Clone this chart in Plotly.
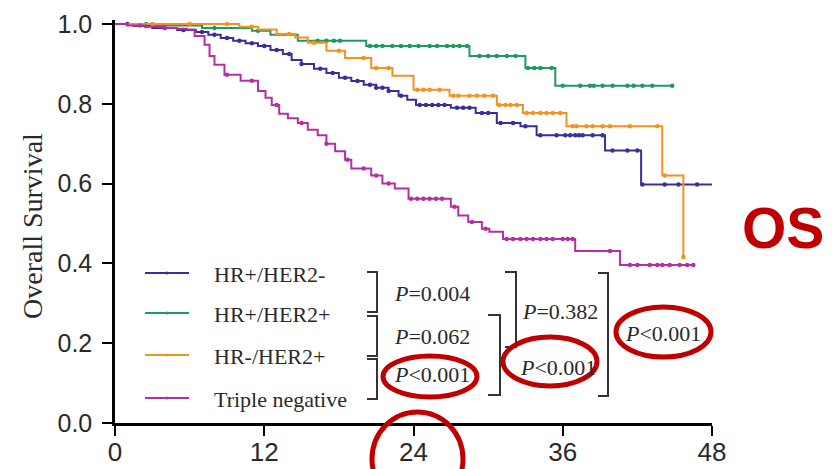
import numpy as np
import plotly.graph_objects as go

# ---------------- data ----------------
group_names = ["HR+/HER2-", "HR+/HER2+", "HR-/HER2+", "Triple negative"]
group_colors = ["#3A2E9C", "#1F9A60", "#F5921E", "#B52FA3"]

# HR+/HER2-
t_hrp_her2n = [0, 1.5, 3, 5, 6.5, 7.5, 8.5, 9.5, 10.5, 11.5, 12.5, 13.5, 14.2, 15, 16, 17, 18, 19, 20,
               21, 22, 22.8, 23.5, 24.2, 27, 29, 30.7, 32.6, 33.9, 39.4, 42.3]
s_hrp_her2n = [1.0, 0.995, 0.99, 0.985, 0.98, 0.973, 0.965, 0.958, 0.952, 0.945, 0.935, 0.925, 0.91, 0.9,
               0.888, 0.877, 0.865, 0.857, 0.848, 0.84, 0.832, 0.82, 0.81, 0.797, 0.79, 0.777, 0.752, 0.744,
               0.721, 0.683, 0.598]
end_hrp_her2n = 48
c_hrp_her2n = [1, 2.5, 4, 5.5, 7, 8, 9, 10, 11, 12, 13, 14, 15, 16.5, 17.5, 18.5, 19.5, 20.5, 21, 21.5, 22,
               23, 24.5, 25, 25.5, 26, 26.5, 27.5, 28, 28.5, 29.5, 30, 31, 32, 33, 34.2, 35.5, 36.2, 36.6,
               37, 37.3, 37.6, 38.4, 39.2, 40, 41.2, 42, 42.4, 44.2, 45.3, 46.8]

# HR+/HER2+
t_hrp_her2p = [0, 3, 7, 11, 12.5, 14.7, 20.2, 28.5, 33, 35.4]
s_hrp_her2p = [1.0, 0.996, 0.99, 0.983, 0.973, 0.958, 0.945, 0.92, 0.89, 0.845]
end_hrp_her2p = 44.8
c_hrp_her2p = [2.5, 8, 11.5, 16.3, 17, 17.6, 18.1, 20.5, 21, 21.5, 22.3, 23, 23.7, 24.4, 25.3, 25.9, 26.7,
               27.2, 27.7, 28.3, 29.3, 30, 30.7, 31.5, 32.2, 33.2, 33.7, 34.2, 35.1, 36, 37.4, 38.2, 38.5,
               39.2, 40, 41.2, 41.7, 42.4, 43.2, 44.8]

# HR-/HER2+
t_hrn_her2p = [0, 10, 11.5, 13, 14.5, 15.5, 17, 18.5, 20.6, 22.3, 24.0, 26.9, 30.7, 32.8, 36.3, 44.0, 45.7]
s_hrn_her2p = [1.0, 0.993, 0.986, 0.975, 0.966, 0.953, 0.933, 0.915, 0.89, 0.87, 0.835, 0.82, 0.797, 0.777,
               0.744, 0.62, 0.416]
end_hrn_her2p = 45.7
c_hrn_her2p = [3, 6, 9, 11, 14, 16, 18, 20, 21, 22, 24.3, 24.8, 25.3, 26.1, 27.2, 27.6, 28.5, 29.1, 29.7,
               30.4, 30.9, 31.4, 31.8, 32.3, 33.1, 33.6, 34.2, 34.7, 35.2, 35.8, 36.8, 37.1, 37.9, 38.4,
               39.2, 39.8, 41.4, 43.6, 44.2, 45.7]

# Triple negative
t_tn = [0, 1, 2.5, 4, 5, 5.8, 6.4, 7.2, 7.6, 8.0, 8.8, 10.1, 11.5, 12.1, 12.6, 13.2, 13.9, 14.7, 15.5, 16.3,
        17, 17.7, 18.5, 19, 20.6, 21.5, 22.5, 23.6, 27.0, 27.6, 28.4, 29.5, 30.1, 31.2, 37.0, 40.6]
s_tn = [1.0, 0.996, 0.993, 0.99, 0.988, 0.986, 0.97, 0.948, 0.92, 0.898, 0.873, 0.858, 0.832, 0.815, 0.797,
        0.775, 0.764, 0.752, 0.735, 0.721, 0.70, 0.681, 0.66, 0.638, 0.62, 0.60, 0.588, 0.562, 0.542, 0.52,
        0.504, 0.487, 0.479, 0.461, 0.431, 0.396]
end_tn = 46.5
c_tn = [2, 4, 9, 11, 13, 15, 17, 18.7, 20, 21, 22, 23.8, 24.3, 24.8, 25.3, 25.8, 26.3, 27.3, 28.7, 29.8,
        31.5, 32, 32.6, 33.1, 33.6, 34.2, 34.7, 35.2, 36, 36.4, 36.8, 39.8, 41.4, 42, 43, 43.6, 44, 44.6,
        45.4, 46, 46.5]

x_ticks = [0, 12, 24, 36, 48]
y_ticks = [0.0, 0.2, 0.4, 0.6, 0.8, 1.0]
y_title = "Overall Survival"
p_texts = ["<i>P</i>=0.004", "<i>P</i>=0.062", "<i>P</i><0.001", "<i>P</i>=0.382", "<i>P</i><0.001",
           "<i>P</i><0.001"]
badge = "OS"

groups = [
    (t_hrp_her2n, s_hrp_her2n, end_hrp_her2n, c_hrp_her2n),
    (t_hrp_her2p, s_hrp_her2p, end_hrp_her2p, c_hrp_her2p),
    (t_hrn_her2p, s_hrn_her2p, end_hrn_her2p, c_hrn_her2p),
    (t_tn, s_tn, end_tn, c_tn),
]

# ---------------- figure ----------------
PAGE_W, PAGE_H = 837, 469
OFF = 8                                  # page body margin
W, H = PAGE_W - OFF, PAGE_H - OFF
PL, PR, PTOP, PB = 115, 712, 20, 423     # plot area in page pixels
YMAX = 1.01


def px(x):
    return (x - PL) / (PR - PL)


def py(y):
    return (PB - y) / (PB - PTOP)


fig = go.Figure()
for name, color, (t, s, end, c) in zip(group_names, group_colors, groups):
    xs = list(t) + [end]
    ys = list(s) + [s[-1]]
    fig.add_trace(go.Scatter(x=xs, y=ys, mode="lines", line=dict(color=color, width=2, shape="hv"),
                             name=name, showlegend=False, hoverinfo="skip"))
    ct = np.array(c, dtype=float)
    idx = np.searchsorted(np.array(t, dtype=float), ct, side="right") - 1
    cy = np.array(s)[idx]
    fig.add_trace(go.Scatter(x=ct, y=cy, mode="markers", marker=dict(color=color, size=4.5),
                             showlegend=False, cliponaxis=False, hoverinfo="skip"))

shapes = []
annotations = []
serif = "Liberation Serif, Times New Roman, serif"
sans = "Liberation Sans, Arial, sans-serif"
txt_col = "#2a2a2a"

# legend
leg_rows = [273, 313, 355, 398]
for name, color, yy in zip(group_names, group_colors, leg_rows):
    shapes.append(dict(type="line", xref="paper", yref="paper", x0=px(145), x1=px(189), y0=py(yy), y1=py(yy),
                       line=dict(color=color, width=2)))
    shapes.append(dict(type="circle", xref="paper", yref="paper", x0=px(165.5), x1=px(168.5), y0=py(yy + 1.5),
                       y1=py(yy - 1.5), fillcolor=color, line=dict(color=color, width=0)))
    annotations.append(dict(xref="paper", yref="paper", x=px(212), y=py(yy + 1), text=name, showarrow=False,
                            xanchor="left", yanchor="middle", font=dict(family=serif, size=22, color=txt_col)))


def bracket(xv, xl, y0, y1):
    return dict(type="path", xref="paper", yref="paper",
                path=f"M {px(xl)} {py(y0)} L {px(xv)} {py(y0)} L {px(xv)} {py(y1)} L {px(xl)} {py(y1)}",
                line=dict(color="#333333", width=2))


shapes.append(bracket(377, 367, 272, 312))
shapes.append(bracket(377, 367, 316, 356))
shapes.append(bracket(377, 367, 359, 399))
shapes.append(bracket(500, 488, 315, 395))
shapes.append(bracket(516, 505, 272, 347))
shapes.append(bracket(608, 598, 273, 396))

p_pos = [(392, 293), (392, 336), (392, 374), (520, 311), (518, 367), (623, 333)]
for tx, (xx, yy) in zip(p_texts, p_pos):
    annotations.append(dict(xref="paper", yref="paper", x=px(xx), y=py(yy), text=tx, showarrow=False,
                            xanchor="left", yanchor="middle", font=dict(family=serif, size=22, color=txt_col)))

# red highlight ellipses
red = "#C00000"
for (x0, x1, y0, y1) in [(383, 477, 356, 397), (503, 597, 337, 386), (616, 711, 307, 357), (372, 463, 412, 506)]:
    shapes.append(dict(type="circle", xref="paper", yref="paper", x0=px(x0), x1=px(x1), y0=py(y1), y1=py(y0),
                       line=dict(color=red, width=5), layer="above"))

annotations.append(dict(xref="paper", yref="paper", x=px(783), y=py(228), text=f"<b>{badge}</b>",
                        showarrow=False, xanchor="center", yanchor="middle",
                        font=dict(family=sans, size=57, color=red)))

annotations.append(dict(xref="paper", yref="paper", x=px(33), y=py(226), text=y_title, showarrow=False,
                        textangle=-90, xanchor="center", yanchor="middle",
                        font=dict(family=serif, size=28, color=txt_col)))

fig.update_layout(
    width=W, height=H,
    margin=dict(l=PL - OFF, r=PAGE_W - PR, t=PTOP - OFF, b=PAGE_H - PB, pad=0, autoexpand=False),
    paper_bgcolor="white", plot_bgcolor="white",
    showlegend=False,
    shapes=shapes, annotations=annotations,
    xaxis=dict(range=[0, 48], tickvals=x_ticks, ticktext=[str(v) for v in x_ticks],
               showline=True, linecolor="black", linewidth=2.5, ticks="outside", ticklen=10, tickwidth=2,
               tickcolor="black", showgrid=False, zeroline=False, ticklabelstandoff=-6, automargin=False,
               tickfont=dict(family=sans, size=26, color=txt_col)),
    yaxis=dict(range=[0, YMAX], tickvals=y_ticks, ticktext=[f"{v:.1f}" for v in y_ticks],
               showline=True, linecolor="black", linewidth=2.5, ticks="outside", ticklen=10, tickwidth=2,
               tickcolor="black", showgrid=False, zeroline=False, ticklabelstandoff=5, automargin=False,
               tickfont=dict(family=sans, size=25, color=txt_col)),
)

fig.write_html("out.html")
